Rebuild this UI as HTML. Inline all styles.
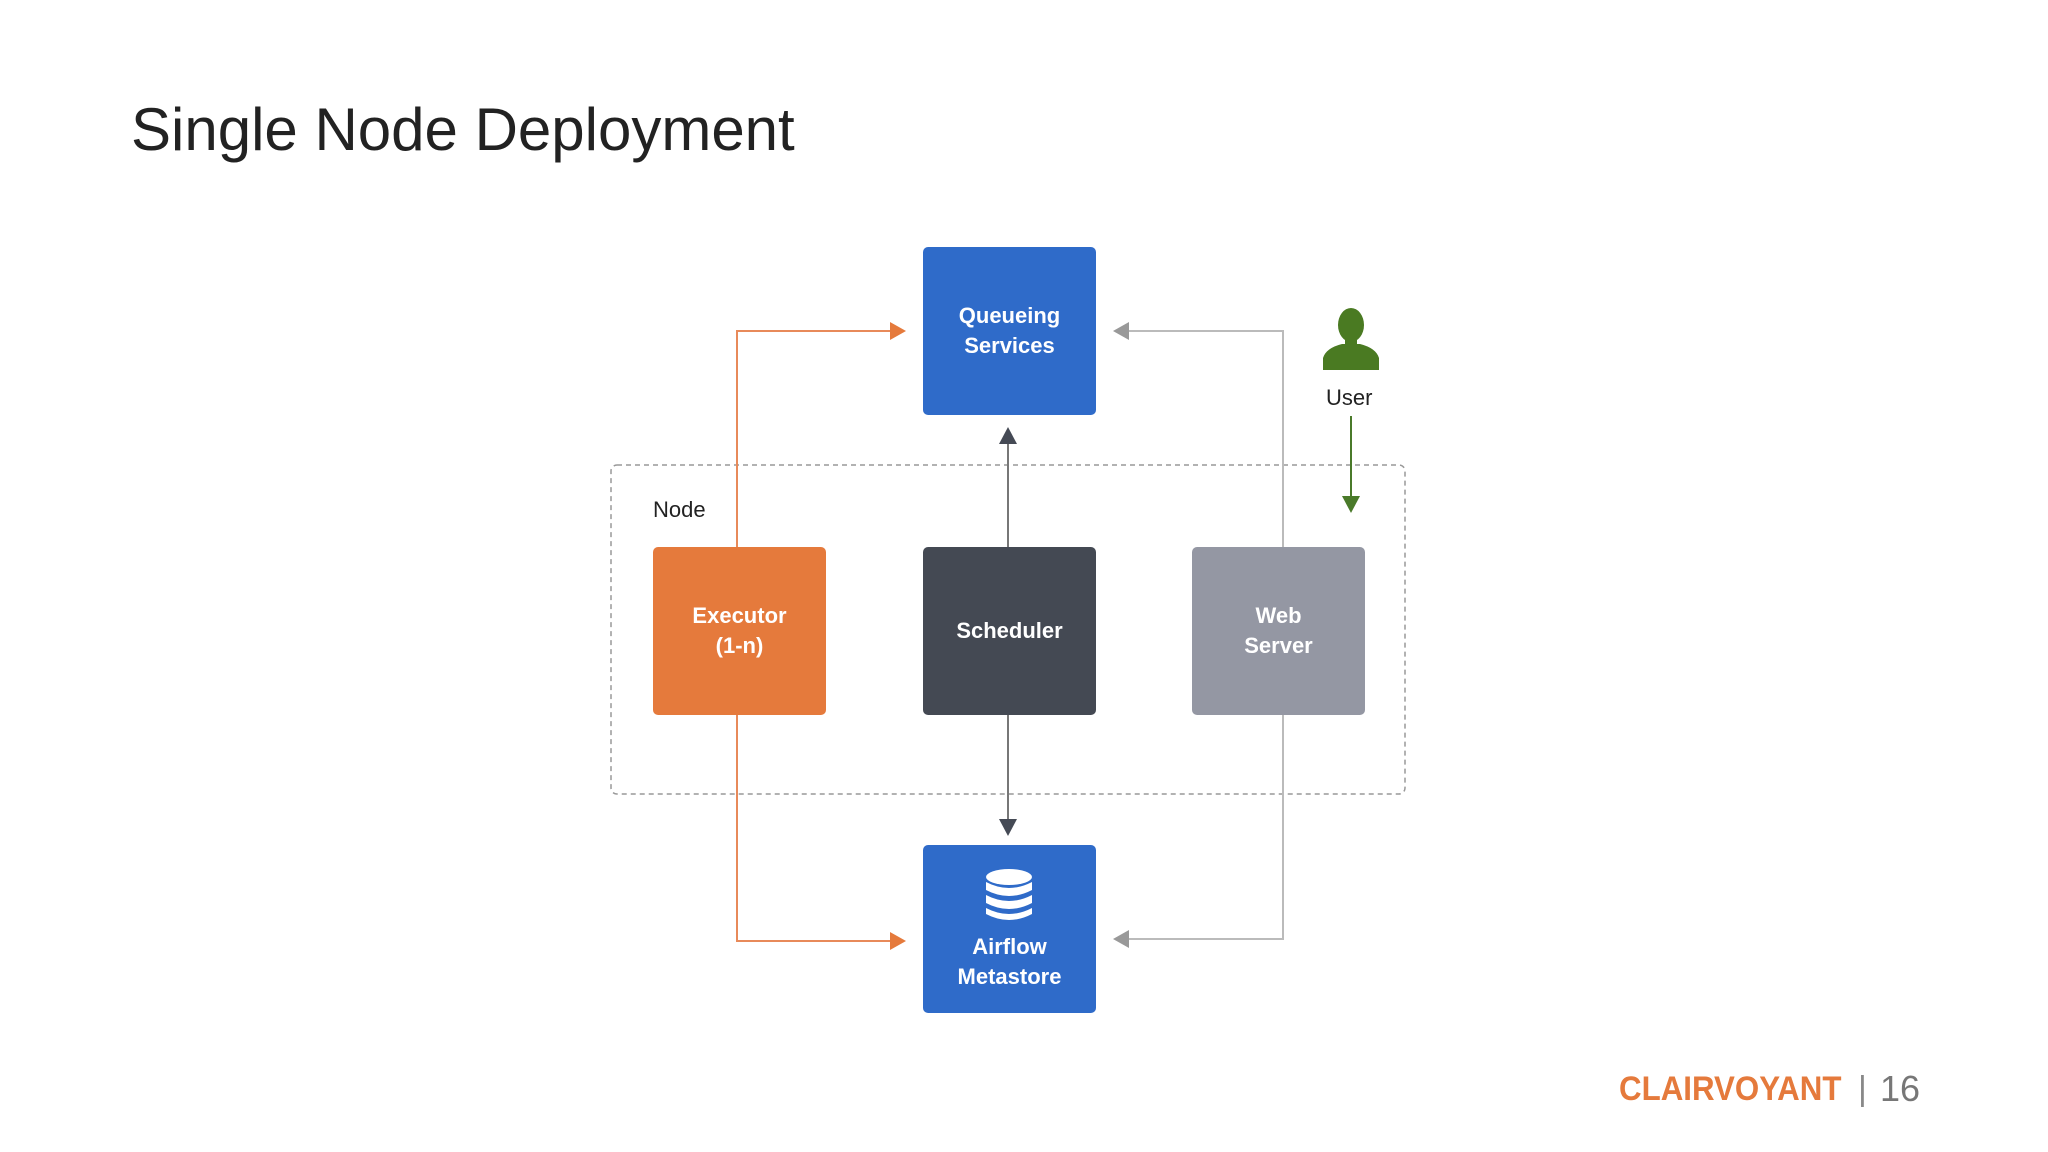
<!DOCTYPE html>
<html><head><meta charset="utf-8"><style>
body{margin:0;width:2048px;height:1152px;background:#fff;overflow:hidden;font-family:"Liberation Sans",sans-serif;position:relative}
.t{position:absolute;left:131px;top:95px;font-size:60px;color:#222;}
.b{position:absolute;width:173px;height:168px;border-radius:5px;color:#fff;font-weight:bold;font-size:22px;display:flex;align-items:center;justify-content:center;text-align:center;line-height:30px}
.foot{position:absolute;top:1070px;font-size:34px}
</style></head><body>
<div class="t">Single Node Deployment</div>
<svg width="2048" height="1152" style="position:absolute;left:0;top:0">
<rect x="611" y="465" width="794" height="329" rx="6" fill="none" stroke="#999" stroke-width="1.5" stroke-dasharray="5,4"/>
<polyline points="737,547 737,331 893,331" fill="none" stroke="#e88a5a" stroke-width="2"/>
<polygon points="906,331 890,322 890,340" fill="#e57a3c"/>
<polyline points="737,714 737,941 893,941" fill="none" stroke="#e88a5a" stroke-width="2"/>
<polygon points="906,941 890,932 890,950" fill="#e57a3c"/>
<polyline points="1283,547 1283,331 1126,331" fill="none" stroke="#bbb" stroke-width="2"/>
<polygon points="1113,331 1129,322 1129,340" fill="#999"/>
<polyline points="1283,714 1283,939 1126,939" fill="none" stroke="#bbb" stroke-width="2"/>
<polygon points="1113,939 1129,930 1129,948" fill="#999"/>
<line x1="1008" y1="547" x2="1008" y2="440" stroke="#777" stroke-width="2"/>
<polygon points="1008,427 999,444 1017,444" fill="#454a55"/>
<line x1="1008" y1="714" x2="1008" y2="822" stroke="#777" stroke-width="2"/>
<polygon points="1008,836 999,819 1017,819" fill="#454a55"/>
<line x1="1351" y1="416" x2="1351" y2="500" stroke="#4a7a2a" stroke-width="2"/>
<polygon points="1351,513 1342,496 1360,496" fill="#4a7a2a"/>
<ellipse cx="1351" cy="325" rx="13" ry="17" fill="#4a7a22"/>
<path d="M1323,370 L1323,358 Q1326,348 1342,344 L1360,344 Q1376,348 1379,358 L1379,370 Z" fill="#4a7a22"/>
<rect x="1345" y="338" width="12" height="10" fill="#4a7a22"/>
</svg>
<div class="b" style="left:923px;top:247px;background:#2f6bc9">Queueing<br>Services</div>
<div class="b" style="left:653px;top:547px;background:#e57a3c">Executor<br>(1-n)</div>
<div class="b" style="left:923px;top:547px;background:#444953">Scheduler</div>
<div class="b" style="left:1192px;top:547px;background:#9497a3">Web<br>Server</div>
<div class="b" style="left:923px;top:845px;background:#2f6bc9;flex-direction:column;padding-top:66px;box-sizing:border-box">Airflow<br>Metastore</div>
<svg width="50" height="56" style="position:absolute;left:984px;top:868px">
<g fill="#fff"><ellipse cx="25" cy="9" rx="23" ry="8"/>
<path d="M2,14 Q25,26 48,14 L48,22 Q25,34 2,22Z"/>
<path d="M2,27 Q25,39 48,27 L48,35 Q25,47 2,35Z"/>
<path d="M2,40 Q25,52 48,40 L48,46 Q25,58 2,46Z"/></g></svg>
<div style="position:absolute;left:653px;top:497px;font-size:22px;color:#222">Node</div>
<div style="position:absolute;left:1326px;top:385px;font-size:22px;color:#222">User</div>
<div class="foot" style="left:1619px;color:#e57a3c;font-weight:bold;transform:scaleX(0.92);transform-origin:left">CLAIRVOYANT</div>
<div class="foot" style="left:1858px;color:#888">|</div>
<div class="foot" style="left:1880px;color:#777;font-size:36px;top:1068px">16</div>
</body></html>
